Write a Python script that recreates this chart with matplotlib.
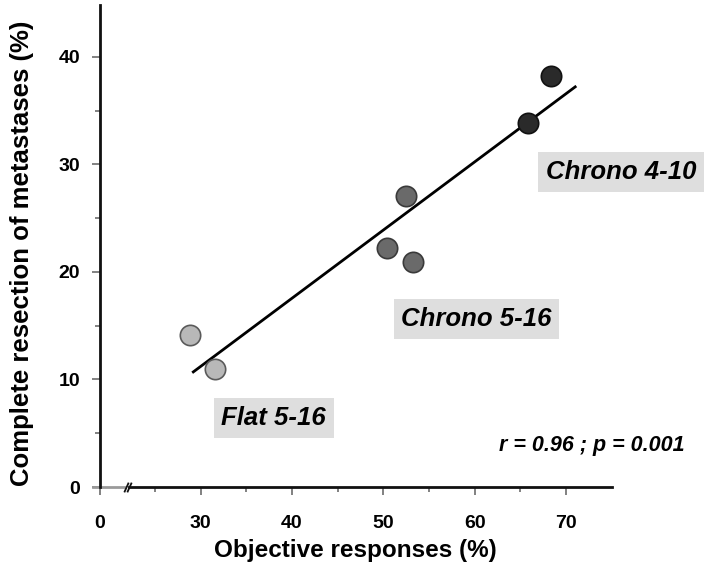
import numpy as np
import matplotlib
matplotlib.use("Agg")
import matplotlib.pyplot as plt
from matplotlib.ticker import FixedLocator, FixedFormatter

plt.rcParams['font.family'] = ['Liberation Sans', 'DejaVu Sans']

# ---- data ----
flat_x = [28.8, 31.6]
flat_y = [14.1, 11.0]
c516_x = [50.4, 52.5, 53.2]
c516_y = [22.2, 27.1, 20.9]
c410_x = [65.8, 68.4]
c410_y = [33.8, 38.2]
fit_x = [29.2, 71.0]
fit_y = [10.7, 37.2]

group_labels = ["Flat 5-16", "Chrono 5-16", "Chrono 4-10"]
stat_text = "r = 0.96 ; p = 0.001"
x_major = [0, 30, 40, 50, 60, 70]
x_major_labels = ["0", "30", "40", "50", "60", "70"]
x_minor = [25, 35, 45, 55, 65]
y_major = [0, 10, 20, 30, 40]
y_minor = [5, 15, 25, 35]

# broken x scale: compress 0..25
K = 0.2404
def fwd(x):
    x = np.asarray(x, dtype=float)
    return np.where(x >= 25, x, 25 - (25 - x) * K)
def inv(v):
    v = np.asarray(v, dtype=float)
    return np.where(v >= 25, v, 25 - (25 - v) / K)

fig = plt.figure(figsize=(7.10, 5.68), dpi=100)
ax = fig.add_axes([0.131, 0.1426, 0.8616 - 0.131, 0.991 - 0.1426])
ax.set_xscale('function', functions=(fwd, inv))
ax.set_xlim(-3.2, 75)
ax.set_ylim(0, 44.8)

# regression line
ax.plot(fit_x, fit_y, color='black', lw=2, zorder=3)

ms = 215
ax.scatter(flat_x, flat_y, s=ms, color='#b8b8b8', edgecolor='#5a5a5a', lw=1.2, zorder=4)
ax.scatter(c516_x, c516_y, s=ms, color='#6a6a6a', edgecolor='#3a3a3a', lw=1.2, zorder=4)
ax.scatter(c410_x, c410_y, s=ms, color='#2a2a2a', edgecolor='#111111', lw=1.2, zorder=4)

box = dict(boxstyle='square,pad=0.3', facecolor='#dedede', edgecolor='none')
tkw = dict(fontsize=18.5, fontweight='bold', fontstyle='italic', ha='center', va='center',
           bbox=box, clip_on=False, zorder=5)
ax.text(38.0, 6.4, group_labels[0], **tkw)
ax.text(60.2, 15.6, group_labels[1], **tkw)
ax.text(76.0, 29.3, group_labels[2], **tkw)
ax.text(72.8, 3.9, stat_text, fontsize=15.5, fontweight='bold', fontstyle='italic',
        ha='center', va='center', clip_on=False)

# spines
for s in ['top', 'right', 'bottom']:
    ax.spines[s].set_visible(False)
ax.spines['left'].set_position(('data', 0))
ax.spines['left'].set_linewidth(2)
ax.spines['left'].set_color('#111111')

# bottom axis drawn in pieces with a break mark
ax.plot([-3.2, 11.4], [0, 0], color='#9a9a9a', lw=2, clip_on=False, zorder=2)
ax.plot([13.4, 75], [0, 0], color='#111111', lw=2, clip_on=False, zorder=2)
slash = [(-0.45, -1), (0.45, 1)]
ax.plot([11.6, 13.2], [0, 0], ls='none', marker=slash, markersize=7,
        mec='#111111', mew=1.3, clip_on=False, zorder=3)

# ticks
ax.xaxis.set_major_locator(FixedLocator(x_major))
ax.xaxis.set_major_formatter(FixedFormatter(x_major_labels))
ax.xaxis.set_minor_locator(FixedLocator(x_minor))
ax.yaxis.set_major_locator(FixedLocator(y_major))
ax.yaxis.set_minor_locator(FixedLocator(y_minor))
ax.tick_params(axis='x', which='major', direction='out', length=6, width=1.3,
               color='#777777', pad=14, labelsize=14)
ax.tick_params(axis='x', which='minor', direction='out', length=3.5, width=1.3,
               color='#777777')
ax.tick_params(axis='y', which='major', direction='out', length=6, width=1.3,
               color='#777777', pad=8.5, labelsize=14)
ax.tick_params(axis='y', which='minor', direction='out', length=3.5, width=1.3,
               color='#777777')
for lab in ax.get_xticklabels() + ax.get_yticklabels():
    lab.set_fontweight('bold')

fig.text(355 / 710, 1 - 550 / 568, "Objective responses (%)", fontsize=17.5,
         fontweight='bold', ha='center', va='center')
fig.text(22 / 710, 1 - 253 / 568, "Complete resection of metastases (%)", fontsize=18.5,
         fontweight='bold', ha='center', va='center', rotation=90)

fig.savefig('out.png', dpi=100)
